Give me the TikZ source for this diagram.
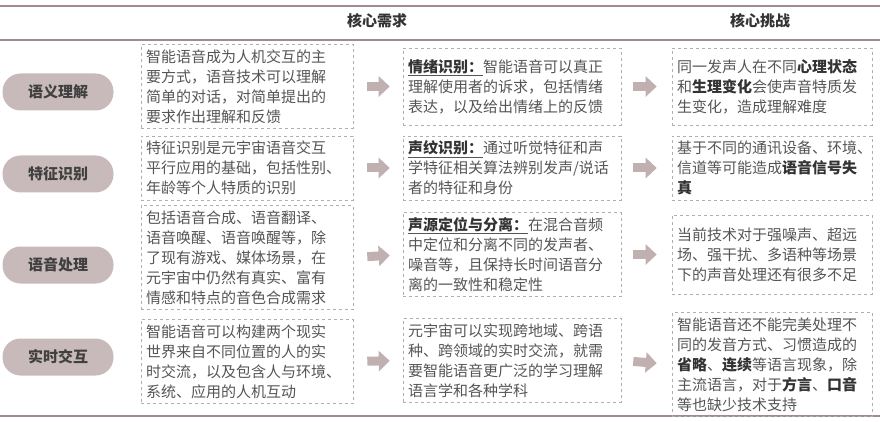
\documentclass[tikz,border=0pt]{standalone}
\usepackage{fontspec}
\usepackage{xcolor}
\setmainfont{Noto Sans CJK SC}
\definecolor{rulebrown}{RGB}{160,140,140}
\definecolor{pillgray}{RGB}{200,186,186}
\definecolor{arrowgray}{RGB}{192,176,176}
\definecolor{boxline}{RGB}{175,175,175}
\definecolor{bodytext}{RGB}{85,85,85}
\usetikzlibrary{arrows.meta,positioning}
\newcommand{\hl}[1]{\textbf{\color{black!80}#1}}
\newcommand{\leadin}[1]{\underline{\textbf{\color{black!80}#1}}}

\begin{document}
\begin{tikzpicture}[x=1pt,y=-1pt,
    pill/.style={fill=pillgray, rounded corners=18pt, minimum width=111pt,
                 minimum height=37pt, font=\fontsize{15}{17}\selectfont\bfseries, text=black!75},
    descbox/.style={draw=boxline, dashed, line width=0.6pt, inner sep=5pt,
                    font=\fontsize{15}{20}\selectfont, text=bodytext, align=left},
    head/.style={font=\fontsize{15}{17}\selectfont\bfseries, text=black!80},
    midarrow/.style={-{Triangle[width=20pt,length=11pt]}, line width=9pt, arrowgray}]
            \useasboundingbox (0,0) rectangle (880,422);
            % rules and headings
            \draw[rulebrown, line width=1.8pt] (0,6) -- (880,6);
            \draw[rulebrown, line width=1.2pt] (0,40) -- (880,40);
            \draw[rulebrown, line width=1.8pt] (0,416) -- (880,416);
            \node[head] (hneed) at (377,21) {核心需求};
            \node[head] (hchal) at (760,21) {核心挑战};

            % row labels
            \node[pill] (p1) at (58,92) {语义理解};
            \node[pill] (p2) at (58,174) {特征识别};
            \node[pill] (p3) at (58,265) {语音处理};
            \node[pill] (p4) at (58,357) {实时交互};

            % current state
            \node[descbox, minimum width=212pt, minimum height=77pt, text width=202pt] (l1) at (247,86.5)
                {智能语音成为人机交互的主\\要方式，语音技术可以理解\\简单的对话，对简单提出的\\要求作出理解和反馈};
            \node[descbox, minimum width=212pt, minimum height=64pt, text width=202pt] (l2) at (247,168)
                {特征识别是元宇宙语音交互\\平行应用的基础，包括性别、\\年龄等个人特质的识别};
            \node[descbox, minimum width=212pt, minimum height=95pt, text width=202pt] (l3) at (247,257.5)
                {包括语音合成、语音翻译、\\语音唤醒、语音唤醒等，除\\了现有游戏、媒体场景，在\\元宇宙中仍然有真实、富有\\情感和特点的音色合成需求};
            \node[descbox, minimum width=212pt, minimum height=73pt, text width=202pt] (l4) at (247,361.5)
                {智能语音可以构建两个现实\\世界来自不同位置的人的实\\时交流，以及包含人与环境、\\系统、应用的人机互动};

            % needs
            \node[descbox, minimum width=218pt, minimum height=77pt, text width=208pt] (m1) at (512,86.5)
                {\leadin{情绪识别：}智能语音可以真正\\理解使用者的诉求，包括情绪\\表达，以及给出情绪上的反馈};
            \node[descbox, minimum width=218pt, minimum height=64pt, text width=208pt] (m2) at (512,168)
                {\leadin{声纹识别：}通过听觉特征和声\\学特征相关算法辨别发声/说话\\者的特征和身份};
            \node[descbox, minimum width=218pt, minimum height=79pt, text width=208pt] (m3) at (512,254.5)
                {\leadin{声源定位与分离：}在混合音频\\中定位和分离不同的发声者、\\噪音等，且保持长时间语音分\\离的一致性和稳定性};
            \node[descbox, minimum width=218pt, minimum height=75pt, text width=208pt] (m4) at (512,360.5)
                {元宇宙可以实现跨地域、跨语\\种、跨领域的实时交流，就需\\要智能语音更广泛的学习理解\\语言学和各种学科};

            % challenges
            \node[descbox, minimum width=198pt, minimum height=77pt, text width=190pt] (r1) at (772,86.5)
                {同一发声人在不同\hl{心理状态}\\和\hl{生理变化}会使声音特质发\\生变化，造成理解难度};
            \node[descbox, minimum width=198pt, minimum height=64pt, text width=190pt] (r2) at (772,168)
                {基于不同的通讯设备、环境、\\信道等可能造成\hl{语音信号失}\\\hl{真}};
            \node[descbox, minimum width=198pt, minimum height=79pt, text width=190pt] (r3) at (772,254.5)
                {当前技术对于强噪声、超远\\场、强干扰、多语种等场景\\下的声音处理还有很多不足};
            \node[descbox, minimum width=198pt, minimum height=97pt, text width=190pt] (r4) at (772,364.5)
                {智能语音还不能完美处理不\\同的发音方式、习惯造成的\\\hl{省略}、\hl{连续}等语言现象，除\\主流语言，对于\hl{方言}、\hl{口音}\\等也缺少技术支持};

            % arrows
            \foreach \i in {1,2,3,4} {
                \draw[midarrow, shorten <=14pt, shorten >=13pt] (l\i.east) -- (m\i.west);
                \draw[midarrow, shorten <=12pt, shorten >=15pt] (m\i.east) -- (r\i.west);
            }
        \end{tikzpicture}
\end{document}
